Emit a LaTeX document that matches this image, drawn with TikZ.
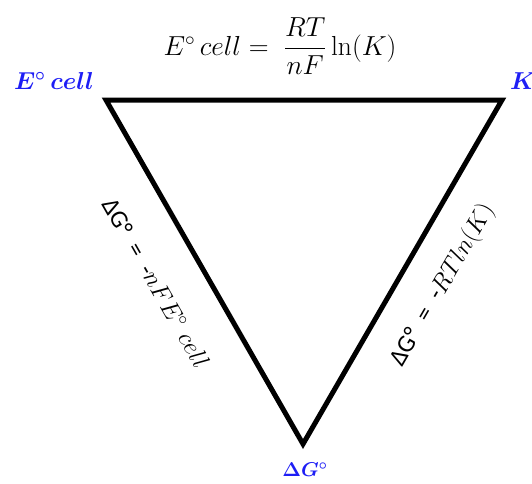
\RequirePackage{fix-cm}
\documentclass[tikz,border=0pt]{standalone}
\usepackage{amsmath}
\usepackage{fontspec}
\newfontfamily\carlitofont{Carlito}
\definecolor{lblblue}{RGB}{30,30,245}
\tikzset{
  vlabel/.style={text=lblblue, font=\fontsize{24.5}{28}\selectfont\boldmath, inner sep=0pt},
  elabel/.style={font=\fontsize{25}{29}\selectfont, inner sep=0pt},
  tri/.style={line width=5pt, line join=miter}
}
\begin{document}
\begin{tikzpicture}[x=1pt,y=-1pt]
\useasboundingbox (0,0) rectangle (532,483);
\coordinate (tl) at (106,100);
\coordinate (tr) at (502,100);
\coordinate (bt) at (303,444);
\draw[tri] (tl) -- (tr) -- (bt) -- cycle;
\node[vlabel] (ecell) at (54,81) {$E^\circ\,cell$};
\node[vlabel, anchor=west] (k) at (510,81) {$K$};
\node[vlabel, font=\fontsize{20}{24}\selectfont\boldmath] (dg) at (305,470) {$\Delta G^\circ$};
\node[elabel, font=\fontsize{27.5}{32}\selectfont] (top) at (280,46) {$E^\circ\,cell = \;\dfrac{RT}{nF}\ln(K)$};
\node[elabel, rotate=-60.3] (left) at (156,283) {{\carlitofont ΔG°\enspace=\enspace-}$nFE^\circ\ cell$};
\node[elabel, rotate=60] (right) at (443,285) {{\carlitofont ΔG°\enspace=\enspace-}$RT ln(K)$};
\end{tikzpicture}
\end{document}
